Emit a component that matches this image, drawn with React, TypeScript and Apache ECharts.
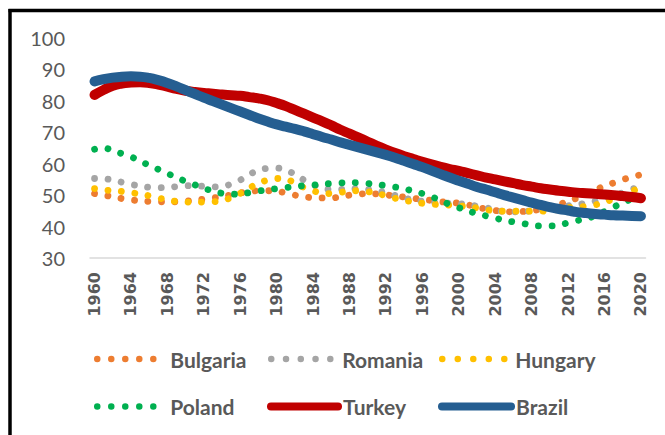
import React, { useEffect, useRef } from "react";
import * as echarts from "echarts";

const years = Array.from({ length: 61 }, (_, i) => String(1960 + i));

const bulgaria = [50.5, 50.0, 49.5, 48.9, 48.5, 48.2, 48.0, 47.9, 47.9, 47.9, 48.1, 48.4, 48.7, 49.1, 49.5, 50.1, 50.7, 51.1, 51.4, 51.4, 51.2, 50.7, 50.0, 49.5, 49.2, 49.1, 49.1, 49.5, 50.0, 50.3, 50.5, 50.4, 50.1, 49.7, 49.4, 49.0, 48.6, 48.3, 47.9, 47.7, 47.4, 46.9, 46.2, 45.6, 45.1, 44.8, 44.7, 44.8, 45.1, 45.5, 46.1, 47.0, 48.1, 49.1, 50.4, 51.7, 52.9, 53.9, 54.9, 55.8, 56.5];
const romania = [55.3, 55.2, 54.8, 54.1, 53.4, 53.0, 52.5, 52.4, 52.5, 52.7, 53.0, 53.0, 52.8, 52.6, 52.9, 53.5, 54.8, 56.6, 57.8, 58.5, 58.6, 57.9, 56.6, 54.8, 53.3, 52.2, 51.8, 51.8, 52.0, 52.0, 51.8, 51.4, 50.7, 49.9, 49.1, 48.5, 48.0, 47.7, 47.6, 47.4, 47.3, 47.0, 46.5, 46.0, 45.3, 44.8, 44.7, 44.8, 45.0, 45.3, 45.6, 46.1, 46.6, 47.0, 47.5, 48.1, 48.8, 49.7, 50.8, 51.9, 52.6];
const hungary = [52.1, 51.7, 51.4, 51.2, 50.8, 50.3, 49.8, 49.1, 48.5, 48.0, 47.8, 47.8, 47.8, 47.9, 48.3, 49.2, 50.6, 52.3, 53.7, 54.8, 55.3, 55.0, 53.9, 52.4, 51.4, 50.6, 50.5, 50.9, 51.3, 51.4, 51.1, 50.6, 49.8, 49.0, 48.4, 47.8, 47.4, 47.1, 47.0, 46.8, 46.6, 46.3, 45.9, 45.4, 45.0, 44.9, 44.9, 44.9, 44.9, 44.9, 45.1, 45.5, 46.0, 46.3, 46.4, 46.9, 47.8, 48.8, 50.0, 51.3, 52.3];
const poland = [64.6, 64.9, 64.2, 63.2, 62.2, 60.8, 59.5, 58.2, 56.9, 55.6, 54.4, 53.3, 52.2, 51.3, 50.6, 50.3, 50.4, 50.8, 51.3, 51.7, 52.1, 52.4, 52.7, 53.0, 53.2, 53.5, 53.7, 53.9, 54.0, 53.9, 53.7, 53.4, 53.0, 52.6, 52.0, 51.3, 50.5, 49.5, 48.3, 47.0, 46.0, 45.0, 44.1, 43.4, 42.7, 42.0, 41.5, 41.0, 40.5, 40.2, 40.2, 40.5, 41.2, 41.9, 42.5, 43.5, 44.8, 46.2, 47.6, 48.7, 49.5];
const turkey = [81.9, 83.5, 84.8, 85.5, 85.8, 85.9, 85.7, 85.2, 84.5, 83.8, 83.2, 82.8, 82.5, 82.3, 82.0, 81.8, 81.6, 81.2, 80.8, 80.2, 79.3, 78.3, 77.1, 75.9, 74.7, 73.5, 72.2, 70.8, 69.6, 68.3, 67.0, 65.7, 64.5, 63.4, 62.4, 61.5, 60.6, 59.8, 59.0, 58.3, 57.7, 57.0, 56.3, 55.6, 55.0, 54.4, 53.8, 53.2, 52.7, 52.2, 51.8, 51.4, 51.1, 50.8, 50.6, 50.4, 50.2, 50.0, 49.7, 49.4, 49.0];
const brazil = [86.2, 86.9, 87.4, 87.7, 87.8, 87.7, 87.3, 86.6, 85.7, 84.6, 83.4, 82.2, 81.0, 79.9, 78.8, 77.7, 76.6, 75.5, 74.4, 73.4, 72.5, 71.8, 71.1, 70.3, 69.4, 68.5, 67.7, 66.8, 66.0, 65.2, 64.4, 63.6, 62.8, 61.9, 60.9, 59.9, 58.9, 57.8, 56.7, 55.6, 54.6, 53.6, 52.6, 51.8, 50.9, 50.0, 49.2, 48.4, 47.6, 46.9, 46.2, 45.6, 45.1, 44.6, 44.3, 44.0, 43.8, 43.6, 43.5, 43.4, 43.3];

const names = ["Bulgaria", "Romania", "Hungary", "Poland", "Turkey", "Brazil"];
const colors = ["#ED7D31", "#A5A5A5", "#FFC000", "#00B050", "#C00000", "#255E91"];
const values = [bulgaria, romania, hungary, poland, turkey, brazil];
const dottedFlags = [true, true, true, true, false, false];

const TEXT = "#595959";

export default function App() {
  const ref = useRef<HTMLDivElement>(null);
  useEffect(() => {
    const chart = echarts.init(ref.current!, null, { renderer: "svg" });

    const series = names.map((name, i) => ({
      name,
      type: "line",
      data: values[i],
      smooth: 0.5,
      showSymbol: false,
      symbol: "circle",
      color: colors[i],
      itemStyle: { color: colors[i] },
      lineStyle: dottedFlags[i]
        ? { color: colors[i], width: 6.8, type: [0.01, 13.5], cap: "round" }
        : { color: colors[i], width: 10, type: "solid", cap: "round", join: "round" },
      emphasis: { disabled: true },
      z: dottedFlags[i] ? 2 : 3,
    }));

    // legend layout: [left, top, itemWidth, dashGap (0 = solid), textPadding]
    const legendLayout: [number, number, number, number, number][] = [
      [94, 348.5, 57, 14, 11],
      [268, 348.5, 60, 14.75, 6],
      [439, 348.5, 63, 15.5, 5],
      [94, 396, 57, 14, 11],
      [267, 396, 67, 0, 0],
      [438, 396, 69, 0, 0],
    ];

    const legends = names.map((name, i) => {
      const [left, top, w, gap, pad] = legendLayout[i];
      return {
        data: [name],
        left,
        top,
        padding: 0,
        itemWidth: w,
        itemHeight: 14,
        selectedMode: false,
        itemStyle: { opacity: 0, borderWidth: 0 },
        lineStyle: gap
          ? { width: 6.5, type: [0.01, gap], cap: "round", color: colors[i] }
          : { width: 8, type: "solid", cap: "round", color: colors[i] },
        textStyle: {
          fontFamily: "Lato",
          fontWeight: "bold",
          fontSize: 21,
          color: TEXT,
          padding: [0, 0, 0, pad],
        },
      };
    });

    chart.setOption({
      animation: false,
      backgroundColor: "#ffffff",
      grid: { left: 90, right: 19.5, top: 38, bottom: 177, containLabel: false },
      xAxis: {
        type: "category",
        data: years,
        boundaryGap: true,
        axisTick: { show: false },
        axisLine: { show: true, lineStyle: { color: "#D9D9D9", width: 1.5 } },
        splitLine: { show: false },
        axisLabel: {
          interval: 3,
          rotate: 90,
          margin: 14,
          fontFamily: "DejaVu Sans",
          fontWeight: "bold",
          fontSize: 16,
          color: TEXT,
        },
      },
      yAxis: {
        type: "value",
        min: 30,
        max: 100,
        interval: 10,
        axisLine: { show: false },
        axisTick: { show: false },
        splitLine: { show: false },
        axisLabel: {
          margin: 25,
          fontFamily: "Lato",
          fontSize: 20,
          color: TEXT,
        },
      },
      legend: legends,
      series,
      graphic: [
        {
          type: "line",
          shape: { x1: 10, y1: 9, x2: 10, y2: 440 },
          style: { stroke: "#000", lineWidth: 3.5 },
          silent: true,
        },
        {
          type: "line",
          shape: { x1: 8.5, y1: 10.5, x2: 670, y2: 10.5 },
          style: { stroke: "#000", lineWidth: 3.5 },
          silent: true,
        },
      ],
    });

    return () => chart.dispose();
  }, []);

  return (
    <div
      ref={ref}
      style={{ position: "absolute", left: 0, top: 0, width: 665, height: 435, background: "#fff" }}
    />
  );
}
